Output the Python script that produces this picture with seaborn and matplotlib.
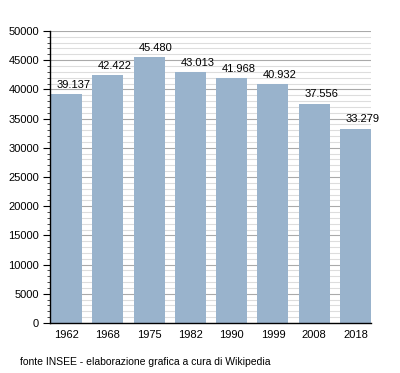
import numpy as np
import pandas as pd
import matplotlib
matplotlib.use("Agg")
import matplotlib.pyplot as plt
from matplotlib.ticker import MultipleLocator
import seaborn as sns

years = ['1962', '1968', '1975', '1982', '1990', '1999', '2008', '2018']
population = [39137, 42422, 45480, 43013, 41968, 40932, 37556, 33279]
bar_color = '#99b3cc'

sns.set_style("white")
plt.rcParams['font.family'] = ['Liberation Sans', 'DejaVu Sans']
plt.rcParams['font.size'] = 8
plt.rcParams['text.color'] = 'black'
plt.rcParams['xtick.color'] = 'black'
plt.rcParams['ytick.color'] = 'black'

df = pd.DataFrame({'anno': years, 'abitanti': population})

fig = plt.figure(figsize=(4, 3.73), dpi=100)
ax = fig.add_axes([0.125, 0.134, 0.8025, 0.783])

sns.barplot(data=df, x='anno', y='abitanti', color=bar_color, saturation=1,
            width=0.75, linewidth=0, ax=ax, zorder=3)

ax.set_ylim(0, 50000)
ax.set_xlim(-0.4, 7.375)
ax.yaxis.set_major_locator(MultipleLocator(5000))
ax.yaxis.set_minor_locator(MultipleLocator(1000))
ax.grid(which='minor', axis='y', color='#dddddd', linewidth=0.8, zorder=0)
ax.grid(which='major', axis='y', color='#aaaaaa', linewidth=0.8, zorder=1)
ax.set_axisbelow(True)

for s in ['top', 'right']:
    ax.spines[s].set_visible(False)
for s in ['left', 'bottom']:
    ax.spines[s].set_color('black')
    ax.spines[s].set_linewidth(1)
    ax.spines[s].set_zorder(5)

ax.tick_params(axis='y', which='major', direction='out', length=5, width=0.8,
               left=True, labelsize=8, pad=3, colors='black')
ax.tick_params(axis='y', which='minor', direction='out', length=2.5, width=0.5,
               left=True, colors='black')
ax.tick_params(axis='x', length=0, labelsize=8, pad=5, colors='black')
ax.set_xlabel('')
ax.set_ylabel('')

for i, v in enumerate(population):
    ax.annotate(f"{v:,}".replace(',', '.'), xy=(i, v), xytext=(5, 3),
                textcoords='offset points', ha='center', va='bottom',
                fontsize=8, color='black')

fig.text(0.05, 0.03, 'fonte INSEE - elaborazione grafica a cura di Wikipedia',
         fontsize=7.5, ha='left', va='center', color='black')

plt.savefig("out.png", dpi=100)
